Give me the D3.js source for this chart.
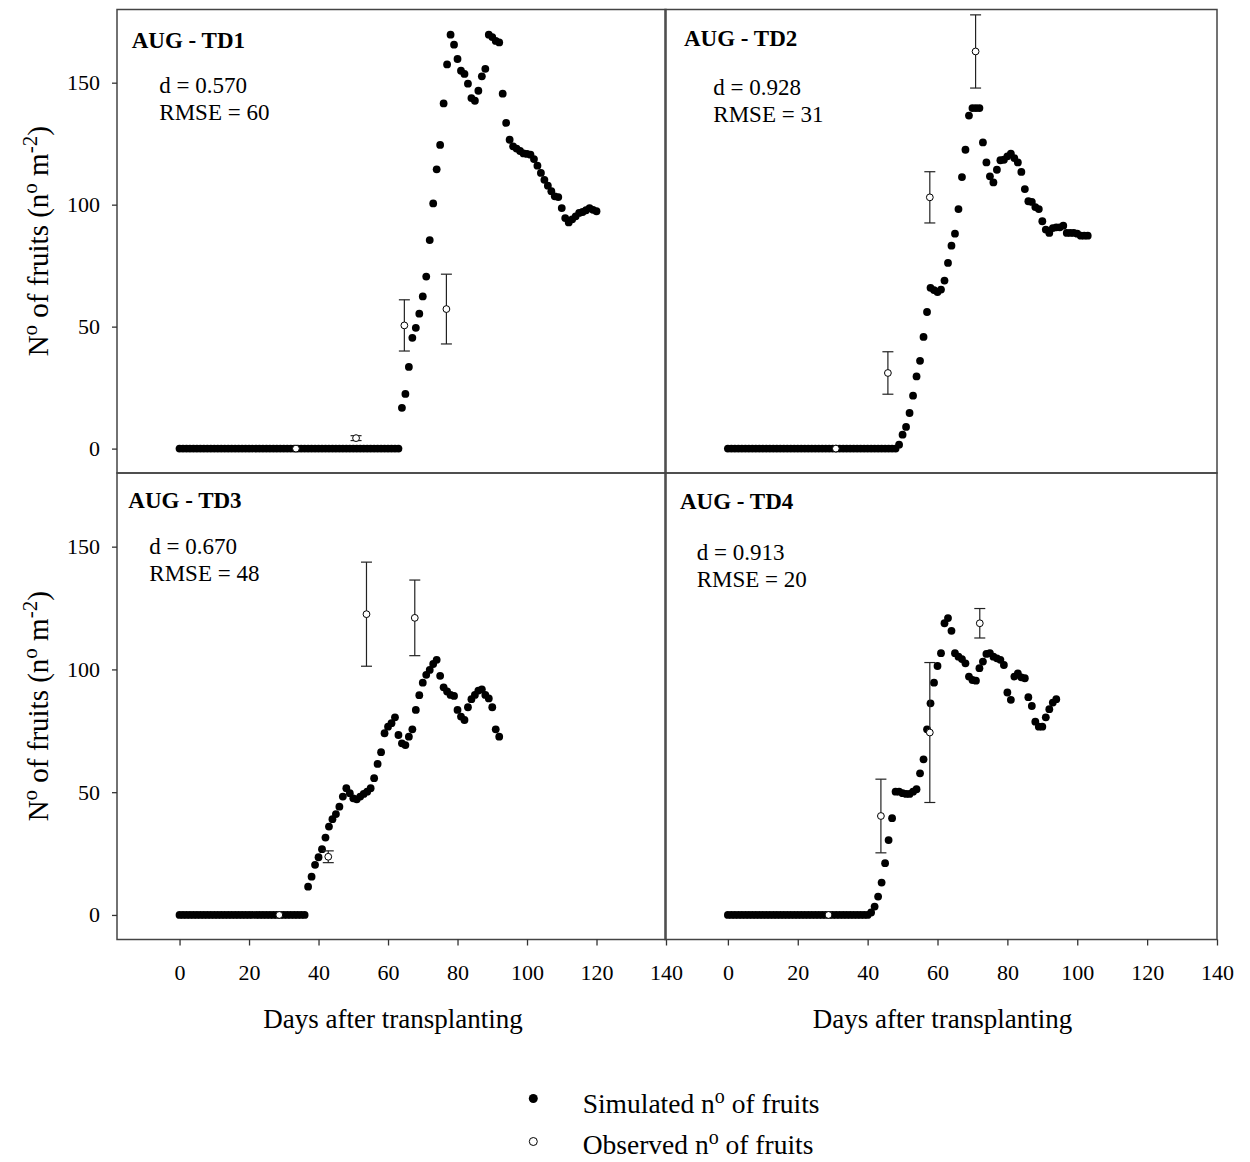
<!DOCTYPE html>
<html><head><meta charset="utf-8">
<script src="https://cdn.jsdelivr.net/npm/d3@7"></script>
<style>
body{margin:0;background:#fff}
svg{display:block}
text{font-family:"Liberation Serif","Times New Roman",serif;fill:#000}
</style>
</head><body>
<svg id="c" width="1250" height="1162"></svg>
<script>
// ---------- data ----------
const xTicks = [0, 20, 40, 60, 80, 100, 120, 140];
const yTicks = [0, 50, 100, 150];
const panelNames = ["AUG - TD1", "AUG - TD2", "AUG - TD3", "AUG - TD4"];
const dStats = ["d = 0.570", "d = 0.928", "d = 0.670", "d = 0.913"];
const rmseStats = ["RMSE = 60", "RMSE = 31", "RMSE = 48", "RMSE = 20"];
const xTitle = "Days after transplanting";
const legendSim = "Simulated";
const legendObs = "Observed";

// simulated values, one per day starting at day 0
const simTD1 = [0,0,0,0,0,0,0,0,0,0, 0,0,0,0,0,0,0,0,0,0, 0,0,0,0,0,0,0,0,0,0,
  0,0,0,0,0,0,0,0,0,0, 0,0,0,0,0,0,0,0,0,0, 0,0,0,0,0,0,0,0,0,0, 0,0,0,0,
  16.7,22.4,33.5,45.4,49.5,55.3,62.4,70.5,85.5,100.5,114.5,124.5,141.5,157.5,169.7,165.6,
  159.7,154.9,153.6,149.6,143.7,142.6,146.7,152.6,155.7,169.7,168.7,167.1,166.5,145.5,133.5,
  126.6,123.9,123.0,122.0,121.0,120.8,120.5,118.7,116.0,113.0,110.2,107.8,105.5,103.4,103.1,
  98.6,94.5,92.7,94.0,95.2,96.6,97.0,97.7,98.6,97.9,97.3];
const simTD2 = [0,0,0,0,0,0,0,0,0,0, 0,0,0,0,0,0,0,0,0,0, 0,0,0,0,0,0,0,0,0,0,
  0,0,0,0,0,0,0,0,0,0, 0,0,0,0,0,0,0,0,0,
  1.6,5.7,8.9,14.6,21.7,29.6,36.0,45.8,56.0,65.9,65.0,64.2,65.2,68.9,76.1,83.2,88.1,98.2,
  111.3,122.5,136.5,139.6,139.6,139.6,125.5,117.3,111.6,109.1,114.3,118.2,118.4,119.8,120.9,
  119.1,117.3,113.4,106.4,101.4,101.1,99.0,98.2,93.2,89.8,88.4,90.4,90.7,90.7,91.4,88.4,88.4,
  88.4,88.1,87.3,87.3,87.3];
const simTD3 = [0,0,0,0,0,0,0,0,0,0, 0,0,0,0,0,0,0,0,0,0, 0,0,0,0,0,0,0,0,0,0,
  0,0,0,0,0,0,0,
  11.5,15.6,20.4,23.5,26.8,31.5,36.0,39.0,41.1,44.1,48.2,51.6,49.6,47.5,47.1,48.2,49.3,50.2,
  51.6,55.7,61.5,66.3,74.0,76.7,78.1,80.5,73.3,69.9,69.2,72.6,75.6,83.5,89.5,94.6,97.8,99.8,
  102.2,103.9,97.4,92.7,91.0,89.6,89.2,83.5,80.8,79.4,84.6,87.9,89.6,91.4,91.9,89.6,88.2,84.6,
  75.6,72.6];
const simTD4 = [0,0,0,0,0,0,0,0,0,0, 0,0,0,0,0,0,0,0,0,0, 0,0,0,0,0,0,0,0,0,0,
  0,0,0,0,0,0,0,0,0,0, 0,
  1.0,3.4,7.5,13.2,21.1,30.5,39.4,50.2,50.2,49.6,49.3,49.3,50.2,51.2,57.7,63.4,75.6,86.2,94.6,
  101.4,106.6,118.8,120.9,115.7,106.6,105.2,104.2,102.5,97.1,95.7,95.4,100.5,103.2,106.3,106.6,
  105.2,104.5,103.9,101.8,90.6,87.6,97.1,98.4,96.8,96.4,88.7,85.1,78.7,76.7,76.7,80.5,83.8,
  86.5,87.9];

// observed values (mean, standard error) and their days
const obsDaysTD1 = [33.5, 50.8, 64.7, 76.8];
const obsTD1 = [0, 4.3, 50.5, 57.2];
const errTD1 = [0, 1.0, 10.5, 14.3];
const obsDaysTD2 = [30.9, 45.8, 57.8, 70.9];
const obsTD2 = [0, 31.0, 103.0, 162.8];
const errTD2 = [0, 8.7, 10.5, 15.0];
const obsDaysTD3 = [28.7, 42.8, 53.8, 67.7];
const obsTD3 = [0, 23.7, 122.5, 121.0];
const errTD3 = [0, 2.4, 21.2, 15.4];
const obsDaysTD4 = [28.8, 43.8, 57.8, 72.1];
const obsTD4 = [0, 40.3, 74.3, 118.8];
const errTD4 = [0, 15.0, 28.5, 6.0];

// ---------- layout ----------
const sims = [simTD1, simTD2, simTD3, simTD4];
const obsDays = [obsDaysTD1, obsDaysTD2, obsDaysTD3, obsDaysTD4];
const obsVals = [obsTD1, obsTD2, obsTD3, obsTD4];
const obsErr = [errTD1, errTD2, errTD3, errTD4];

const layouts = [
  {xr:[117,666], yr:[473,9.5], left:true, bottom:false, title:[131.7,48.3], stats:[159.3,93,120]},
  {xr:[665,1217], yr:[473,9.5], left:false, bottom:false, title:[684,46], stats:[713.3,95,122]},
  {xr:[117,666], yr:[939.5,473], left:true, bottom:true, title:[128.3,507.7], stats:[149.3,554,581]},
  {xr:[665,1217], yr:[939.5,473], left:false, bottom:true, title:[680,509], stats:[696.7,560,587]}
];
const FONT = '"Liberation Serif","Times New Roman",serif';
const svg = d3.select("#c");

function supText(sel, parts, size, supSize, rise){
  let cur = 0;
  parts.forEach(([t, sup]) => {
    const target = sup ? -rise : 0;
    sel.append("tspan").attr("dy", target - cur).attr("font-size", sup ? supSize : size).text(t);
    cur = target;
  });
}

layouts.forEach((L, i) => {
  const x = d3.scaleLinear().domain([-18, 140]).range(L.xr);
  const y = d3.scaleLinear().domain([-10, 180]).range(L.yr);
  const g = svg.append("g");

  g.append("rect")
    .attr("x", L.xr[0]).attr("y", L.yr[1])
    .attr("width", L.xr[1]-L.xr[0]).attr("height", L.yr[0]-L.yr[1])
    .attr("fill", "none").attr("stroke", "#444").attr("stroke-width", 1.5);

  if (L.left) {
    const ay = g.append("g").attr("transform", `translate(${L.xr[0]},0)`)
      .call(d3.axisLeft(y).tickValues(yTicks).tickSize(5).tickSizeOuter(0).tickPadding(12));
    ay.select(".domain").remove();
    ay.attr("font-family", FONT).attr("font-size", 22).attr("color", "#333");
    ay.selectAll("text").attr("fill", "#000");
    ay.selectAll("line").attr("stroke-width", 1.3);
  }
  if (L.bottom) {
    const ax = g.append("g").attr("transform", `translate(0,${L.yr[0]})`)
      .call(d3.axisBottom(x).tickValues(xTicks).tickSize(6).tickSizeOuter(0).tickPadding(19));
    ax.select(".domain").remove();
    ax.attr("font-family", FONT).attr("font-size", 22).attr("color", "#333");
    ax.selectAll("text").attr("fill", "#000");
    ax.selectAll("line").attr("stroke-width", 1.3);
    g.append("text").attr("x", (L.xr[0]+L.xr[1])/2 + 1.5).attr("y", 1028)
      .attr("text-anchor", "middle").attr("font-size", 27).text(xTitle);
  }
  if (L.left) {
    const cy = (L.yr[0]+L.yr[1])/2;
    const t = g.append("text").attr("transform", `translate(48,${cy}) rotate(-90)`)
      .attr("text-anchor", "middle").attr("font-size", 29);
    supText(t, [["N",false],["o",true],[" of fruits (n",false],["o",true],[" m",false],["-2",true],[")",false]], 29, 21, 11);
  }

  // simulated
  g.append("g").selectAll("circle").data(sims[i]).join("circle")
    .attr("cx", (d, j) => x(j)).attr("cy", d => y(d)).attr("r", 3.9).attr("fill", "#000");

  // observed with error bars
  const od = obsDays[i].map((dd, k) => ({day: dd, v: obsVals[i][k], e: obsErr[i][k]}));
  const eb = g.append("g").attr("stroke", "#222").attr("stroke-width", 1.2);
  od.filter(o => o.e > 0).forEach(o => {
    eb.append("line").attr("x1", x(o.day)).attr("x2", x(o.day)).attr("y1", y(o.v+o.e)).attr("y2", y(o.v-o.e));
    eb.append("line").attr("x1", x(o.day)-5.5).attr("x2", x(o.day)+5.5).attr("y1", y(o.v+o.e)).attr("y2", y(o.v+o.e));
    eb.append("line").attr("x1", x(o.day)-5.5).attr("x2", x(o.day)+5.5).attr("y1", y(o.v-o.e)).attr("y2", y(o.v-o.e));
  });
  g.append("g").selectAll("circle").data(od).join("circle")
    .attr("cx", o => x(o.day)).attr("cy", o => y(o.v)).attr("r", 3.4)
    .attr("fill", "#fff").attr("stroke", "#000").attr("stroke-width", 1);

  g.append("text").attr("x", L.title[0]).attr("y", L.title[1]).attr("font-size", 23)
    .attr("font-weight", "bold").text(panelNames[i]);
  g.append("text").attr("x", L.stats[0]).attr("y", L.stats[1]).attr("font-size", 23).text(dStats[i]);
  g.append("text").attr("x", L.stats[0]).attr("y", L.stats[2]).attr("font-size", 23).text(rmseStats[i]);
});

// legend
const lg = svg.append("g");
lg.append("circle").attr("cx", 533.3).attr("cy", 1098.5).attr("r", 4.5).attr("fill", "#000");
lg.append("circle").attr("cx", 533.3).attr("cy", 1141.5).attr("r", 4).attr("fill", "#fff")
  .attr("stroke", "#000").attr("stroke-width", 1);
const t1 = lg.append("text").attr("x", 582.7).attr("y", 1113).attr("font-size", 27.5);
supText(t1, [[legendSim + " n", false], ["o", true], [" of fruits", false]], 27.5, 20, 10);
const t2 = lg.append("text").attr("x", 582.7).attr("y", 1154).attr("font-size", 27.5);
supText(t2, [[legendObs + " n", false], ["o", true], [" of fruits", false]], 27.5, 20, 10);
</script>
</body></html>
